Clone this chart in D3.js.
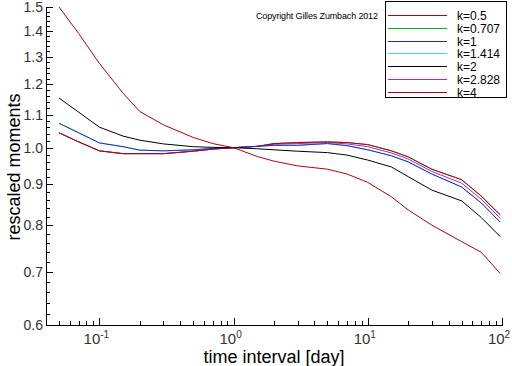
<!DOCTYPE html>
<html>
<head>
<meta charset="utf-8">
<script src="https://cdn.jsdelivr.net/npm/d3@7"></script>
<style>
  body { margin: 0; background: #fff; }
  svg { display: block; font-family: "Liberation Sans", Arial, sans-serif; }
</style>
</head>
<body>
<script>
// time intervals in days
var intervals = [0.05, 0.07, 0.1, 0.15, 0.2, 0.3, 0.5, 0.7, 1, 1.5, 2, 3, 5, 7, 10, 15, 20, 30, 50, 70, 97];

// the green, cyan and magenta curves sit under the others in the picture
var k05   = [1.044, 1.017, 0.991, 0.983, 0.983, 0.983, 0.990, 0.996, 1.0, 1.004, 1.012, 1.015, 1.017, 1.015, 1.009, 0.991, 0.974, 0.940, 0.912, 0.870, 0.824];
var k0707 = [1.044, 1.017, 0.991, 0.983, 0.983, 0.983, 0.990, 0.996, 1.0, 1.004, 1.012, 1.015, 1.017, 1.015, 1.009, 0.991, 0.974, 0.940, 0.912, 0.870, 0.824];
var k1    = [1.073, 1.044, 1.014, 1.003, 0.993, 0.991, 0.994, 0.998, 1.0, 1.004, 1.007, 1.007, 1.012, 1.006, 0.994, 0.977, 0.960, 0.927, 0.893, 0.853, 0.807];
var k1414 = [1.073, 1.044, 1.014, 1.003, 0.993, 0.991, 0.994, 0.998, 1.0, 1.004, 1.007, 1.007, 1.012, 1.006, 0.994, 0.977, 0.960, 0.927, 0.893, 0.853, 0.807];
var k2    = [1.154, 1.108, 1.061, 1.034, 1.022, 1.011, 1.003, 1.001, 1.0, 0.997, 0.994, 0.990, 0.986, 0.979, 0.965, 0.946, 0.920, 0.885, 0.858, 0.818, 0.774];
var k2828 = [1.044, 1.017, 0.991, 0.983, 0.983, 0.983, 0.990, 0.996, 1.0, 1.004, 1.010, 1.012, 1.015, 1.011, 1.003, 0.985, 0.968, 0.934, 0.903, 0.862, 0.816];
var k4    = [1.500, 1.390, 1.275, 1.170, 1.110, 1.068, 1.030, 1.012, 1.0, 0.975, 0.962, 0.949, 0.940, 0.927, 0.905, 0.868, 0.836, 0.800, 0.763, 0.740, 0.696];

var seriesNames = ["k=0.5", "k=0.707", "k=1", "k=1.414", "k=2", "k=2.828", "k=4"];
var seriesValues = [k05, k0707, k1, k1414, k2, k2828, k4];
var seriesColors = ["#b00018", "#10b020", "#2828c0", "#30e0e0", "#000000", "#c020c0", "#b00018"];
// hidden curves go first, the visible ones on top
var drawOrder = [1, 3, 5, 0, 2, 4, 6];

var yTicks = [0.6, 0.7, 0.8, 0.9, 1.0, 1.1, 1.2, 1.3, 1.4, 1.5];
var xTicks = [0.1, 1, 10, 100];
var xTickExp = ["-1", "0", "1", "2"];

var width = 512, height = 366;

var x = d3.scaleLog().domain([0.04, 100]).range([46, 502]);
var y = d3.scaleLog().domain([0.6, 1.5]).range([325, 7]);

var svg = d3.select("body")
  .append("svg")
    .attr("width", width)
    .attr("height", height);

// minor ticks
var yMinor = d3.range(60, 151, 2).map(function(d){ return d / 100; })
  .filter(function(d){ return yTicks.indexOf(d) == -1; });
var xMinor = [];
[0.01, 0.1, 1, 10].forEach(function(dec){
  for (var m = 2; m <= 9; m++) {
    var v = +(m * dec).toPrecision(3);
    if (v >= 0.04 && v <= 100) xMinor.push(v);
  }
});

svg.append("g")
  .attr("transform", "translate(46,0)")
  .call(d3.axisRight(y).tickValues(yMinor).tickSize(4).tickFormat(""))
  .call(function(g){ g.select(".domain").remove(); });

svg.append("g")
  .attr("transform", "translate(46,0)")
  .call(d3.axisRight(y).tickValues(yTicks).tickSize(7).tickFormat(""))
  .call(function(g){ g.select(".domain").remove(); });

svg.append("g")
  .attr("transform", "translate(0,325)")
  .call(d3.axisTop(x).tickValues(xMinor).tickSize(4).tickFormat(""))
  .call(function(g){ g.select(".domain").remove(); });

svg.append("g")
  .attr("transform", "translate(0,325)")
  .call(d3.axisTop(x).tickValues(xTicks).tickSize(7).tickFormat(""))
  .call(function(g){ g.select(".domain").remove(); });

svg.selectAll(".tick line").attr("stroke", "#000").attr("shape-rendering", "crispEdges");

// axis lines
svg.append("line")
  .attr("x1", 46).attr("x2", 46).attr("y1", y(1.5)).attr("y2", 325)
  .attr("stroke", "#000").attr("shape-rendering", "crispEdges");
svg.append("line")
  .attr("x1", 46).attr("x2", x(100) + 1).attr("y1", 325).attr("y2", 325)
  .attr("stroke", "#000").attr("shape-rendering", "crispEdges");

// y tick labels
svg.selectAll(".ylab")
  .data(yTicks)
  .enter()
  .append("text")
  .attr("class", "ylab")
  .attr("x", 43)
  .attr("y", function(d){ return y(d) + 5; })
  .attr("text-anchor", "end")
  .attr("font-size", 14)
  .attr("fill", "#333")
  .text(function(d){ return d.toFixed(1); });

// x tick labels, 10 with exponent
var xl = svg.selectAll(".xlab")
  .data(xTicks)
  .enter()
  .append("text")
  .attr("class", "xlab")
  .attr("x", function(d){ return x(d) - 3; })
  .attr("y", 344)
  .attr("text-anchor", "middle")
  .attr("font-size", 15)
  .attr("fill", "#333");
xl.append("tspan").text("10");
xl.append("tspan")
  .attr("dy", -6)
  .attr("font-size", 10)
  .text(function(d, i){ return xTickExp[i]; });

// axis titles
svg.append("text")
  .attr("x", 274)
  .attr("y", 363)
  .attr("text-anchor", "middle")
  .attr("font-size", 18)
  .text("time interval [day]");

svg.append("text")
  .attr("transform", "translate(20,167) rotate(-90)")
  .attr("text-anchor", "middle")
  .attr("font-size", 18)
  .text("rescaled moments");

// curves
var line = d3.line()
  .x(function(d, i){ return x(intervals[i]); })
  .y(function(d){ return y(d); });

svg.selectAll(".curve")
  .data(drawOrder)
  .enter()
  .append("path")
  .attr("class", "curve")
  .attr("d", function(s){ return line(seriesValues[s]); })
  .attr("fill", "none")
  .attr("stroke", function(s){ return seriesColors[s]; })
  .attr("stroke-width", 1);

// copyright
svg.append("text")
  .attr("x", 256)
  .attr("y", 19)
  .attr("font-size", 9)
  .attr("textLength", 122)
  .text("Copyright Gilles Zumbach 2012");

// legend
var legend = svg.append("g");
legend.append("rect")
  .attr("x", 385.5).attr("y", 1.5)
  .attr("width", 121).attr("height", 96)
  .attr("fill", "#fff").attr("stroke", "#000")
  .attr("shape-rendering", "crispEdges");

var rows = legend.selectAll(".row")
  .data(seriesNames)
  .enter()
  .append("g")
  .attr("transform", function(d, i){ return "translate(0," + (Math.round(15 + i * 12.8) + 0.5) + ")"; });
rows.append("line")
  .attr("x1", 388).attr("x2", 447)
  .attr("stroke", function(d, i){ return seriesColors[i]; })
  .attr("shape-rendering", "crispEdges");
rows.append("text")
  .attr("x", 457)
  .attr("y", 4.5)
  .attr("font-size", 12)
  .text(function(d){ return d; });
</script>
</body>
</html>
